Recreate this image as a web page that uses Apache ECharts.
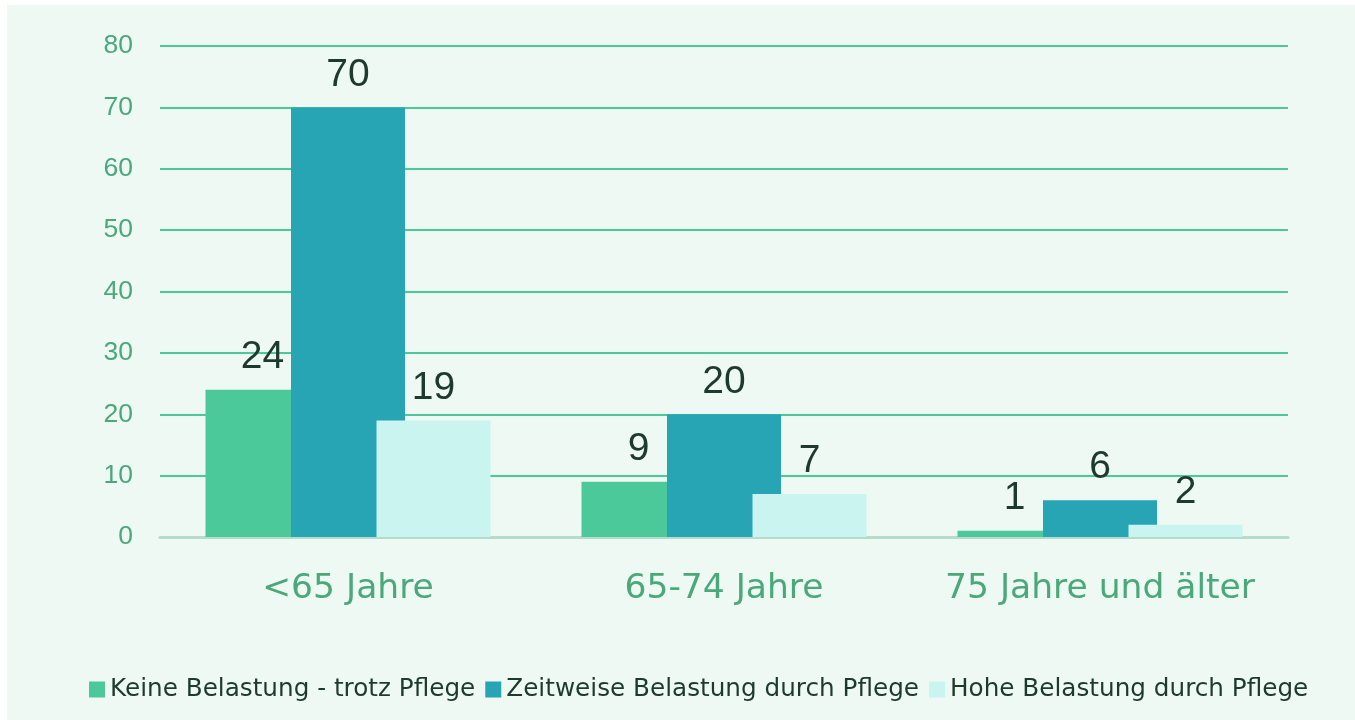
<!DOCTYPE html>
<html>
<head>
<meta charset="utf-8">
<script src="https://cdn.jsdelivr.net/npm/echarts@6/dist/echarts.min.js"></script>
<style>
html,body{margin:0;padding:0;background:#ffffff;width:1355px;height:720px;overflow:hidden;}
#chart{position:absolute;left:7px;top:5px;width:1348px;height:715px;}
</style>
</head>
<body>
<div id="chart"></div>
<script>
const categories = ['<65 Jahre', '65-74 Jahre', '75 Jahre und älter'];
const seriesNames = ['Keine Belastung - trotz Pflege', 'Zeitweise Belastung durch Pflege', 'Hohe Belastung durch Pflege'];
const keineBelastung = [24, 9, 1];
const zeitweiseBelastung = [70, 20, 6];
const hoheBelastung = [19, 7, 2];
const yTicks = [0, 10, 20, 30, 40, 50, 60, 70, 80];

const colors = ['#4bc99a', '#27a5b4', '#c9f4f0'];
const seriesData = [keineBelastung, zeitweiseBelastung, hoheBelastung];
const TEXT_FONT = 'DejaVu Sans';
const NUM_FONT = 'Liberation Sans';

const chart = echarts.init(document.getElementById('chart'));
chart.setOption({
  backgroundColor: '#eff9f4',
  animation: false,
  textStyle: { fontFamily: TEXT_FONT },
  grid: { left: 153, right: 67, top: 41, bottom: 183, containLabel: false },
  legend: {
    left: 77,
    top: 667,
    itemWidth: 16,
    itemHeight: 16,
    itemGap: 10,
    icon: 'rect',
    textStyle: { fontFamily: TEXT_FONT, fontSize: 24.7, color: '#1e3a2e' },
    data: seriesNames
  },
  xAxis: {
    type: 'category',
    data: categories,
    axisTick: { show: false },
    axisLine: { show: true, lineStyle: { color: '#b5dccb', width: 3 } },
    axisLabel: { interval: 0, hideOverlap: false, margin: 35, fontSize: 34.5, color: '#4aa87a', fontFamily: TEXT_FONT },
    splitLine: { show: false }
  },
  yAxis: {
    type: 'value',
    min: yTicks[0],
    max: yTicks[yTicks.length - 1],
    interval: yTicks[1] - yTicks[0],
    axisLine: { show: false },
    axisTick: { show: false },
    axisLabel: { margin: 27, fontSize: 26.5, color: '#4aa87a', fontFamily: NUM_FONT },
    splitLine: { lineStyle: { color: '#4cc99b', width: 2 } }
  },
  series: seriesNames.map((name, i) => ({
    name: name,
    type: 'bar',
    data: seriesData[i],
    barWidth: 114,
    barGap: '-25%',
    itemStyle: { color: colors[i] },
    label: {
      show: true,
      position: 'top',
      distance: 13,
      fontSize: 39,
      color: '#1e3a2e',
      fontFamily: NUM_FONT
    }
  }))
});
</script>
</body>
</html>
